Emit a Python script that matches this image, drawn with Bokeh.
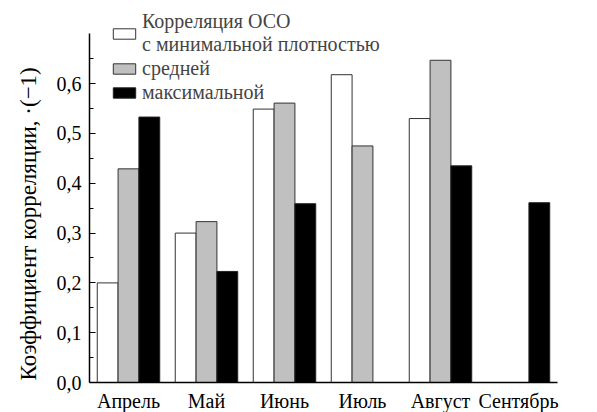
from bokeh.plotting import figure
from bokeh.models import (FactorRange, Range1d, FixedTicker, CustomJSTickFormatter,
                          ColumnDataSource, Legend, LegendItem, Title)
from bokeh.transform import dodge
from bokeh.embed import file_html
from bokeh.resources import INLINE

nan = float("nan")

# ---- data ----
months = ["Апрель", "Май", "Июнь", "Июль", "Август", "Сентябрь"]
corr_min = [0.200, 0.300, 0.549, 0.618, 0.530, nan]
corr_mid = [0.429, 0.323, 0.561, 0.475, 0.647, nan]
corr_max = [0.533, 0.223, 0.359, nan, 0.435, 0.361]
series_labels = ["Корреляция ОСО\nс минимальной плотностью", "средней", "максимальной"]
y_ticks = [0.0, 0.1, 0.2, 0.3, 0.4, 0.5, 0.6]
y_minor_ticks = [0.05, 0.15, 0.25, 0.35, 0.45, 0.55, 0.65]
y_axis_top = 0.7
y_label = "Коэффициент корреляции, ·(−1)"

FONT = "Liberation Serif"

src = ColumnDataSource(dict(month=months, mn=corr_min, md=corr_mid, mx=corr_max))

p = figure(x_range=FactorRange(factors=months), y_range=Range1d(0, 0.761),
           frame_width=468, frame_height=379,
           min_border_left=89, min_border_right=20, min_border_top=3, min_border_bottom=28,
           output_backend="svg", toolbar_location=None)

w = 0.267
r1 = p.vbar(x=dodge("month", -w, range=p.x_range), top="mn", width=w, source=src,
            fill_color="white", line_color="#333333", line_width=1)
r2 = p.vbar(x=dodge("month", 0, range=p.x_range), top="md", width=w, source=src,
            fill_color="#c0c0c0", line_color="#333333", line_width=1)
r3 = p.vbar(x=dodge("month", w, range=p.x_range), top="mx", width=w, source=src,
            fill_color="black", line_color="#222222", line_width=1)

p.xgrid.visible = False
p.ygrid.visible = False
p.outline_line_color = None
p.background_fill_color = "white"
p.border_fill_color = "white"

# y axis
ya = p.yaxis[0]
ya.bounds = (0, y_axis_top)
ya.ticker = FixedTicker(ticks=y_ticks, minor_ticks=y_minor_ticks)
ya.formatter = CustomJSTickFormatter(code="return tick.toFixed(1).replace('.', ',');")
ya.major_tick_in = 6
ya.major_tick_out = 0
ya.minor_tick_in = 4
ya.minor_tick_out = 0
ya.axis_line_width = 1.5
ya.major_tick_line_width = 1.2
ya.major_label_standoff = 8
ya.major_label_text_font = FONT
ya.major_label_text_font_size = "20px"
ya.major_label_text_color = "black"

# y axis title (left side, starting near the bottom of the axis)
ytitle = Title(text=y_label, align="left", offset=2, standoff=26,
               text_font=FONT, text_font_size="23px", text_font_style="normal",
               text_color="black")
p.add_layout(ytitle, "left")

# x axis
xa = p.xaxis[0]
xa.major_tick_line_color = None
xa.minor_tick_line_color = None
xa.axis_line_width = 1.5
xa.major_label_standoff = 1
xa.major_label_text_font = FONT
xa.major_label_text_font_size = "20px"
xa.major_label_text_color = "black"

legend = Legend(items=[LegendItem(label=series_labels[0], renderers=[r1]),
                       LegendItem(label=series_labels[1], renderers=[r2]),
                       LegendItem(label=series_labels[2], renderers=[r3])],
                location=(21, 278), glyph_width=28, glyph_height=13,
                label_text_font=FONT, label_text_font_size="20px", label_standoff=4,
                spacing=1, padding=0, margin=0, border_line_color=None,
                background_fill_alpha=0, label_text_line_height=1.2)
p.add_layout(legend)

open("out.html", "w").write(file_html(p, INLINE))
